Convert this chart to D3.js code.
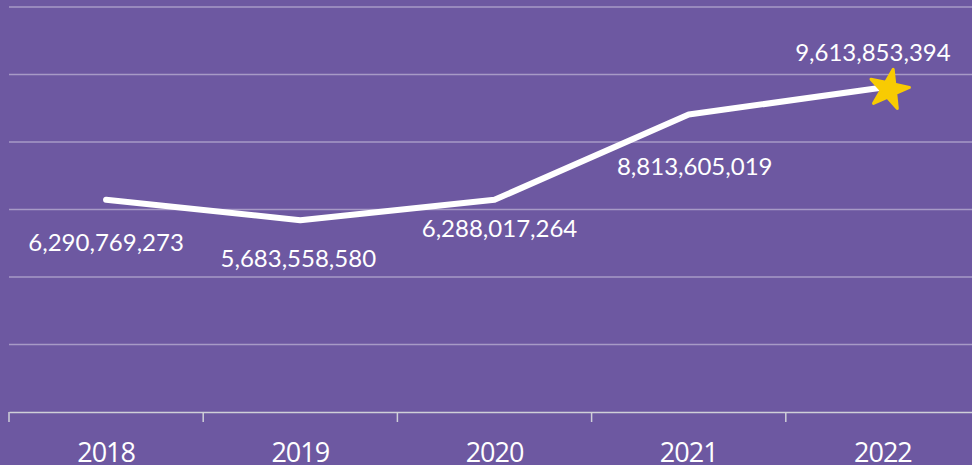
<!DOCTYPE html>
<html>
<head>
<meta charset="utf-8">
<script src="https://cdn.jsdelivr.net/npm/d3@7"></script>
<style>
    html, body { margin: 0; padding: 0; background: #6d58a1; overflow: hidden; }
    .data-label { font-family: Lato, sans-serif; font-size: 24px; fill: #fff; }
    .x-axis text { font-family: "Open Sans", sans-serif; font-size: 27px; fill: #fff; letter-spacing: -1px; }
</style>
</head>
<body>
<div class="chart"></div>
<script>
const years = ['2018', '2019', '2020', '2021', '2022'];
const totals = [6290769273, 5683558580, 6288017264, 8813605019, 9613853394];
const yTicks = [0, 2e9, 4e9, 6e9, 8e9, 10e9, 12e9];
// label nudges (dx, dy from the point), so they sit clear of the line
const labelOffsets = [[0, 51], [-2, 47], [5, 37], [6, 60], [-10, -27]];

const width = 972;
const height = 465;
const margin = { top: 7, left: 9, bottom: 53 };
const plotRight = 980;

const data = years.map((year, i) => ({ year, value: totals[i] }));

const svg = d3.select('.chart')
    .append('svg')
    .attr('width', width)
    .attr('height', height);

const x = d3.scaleBand()
    .domain(years)
    .range([margin.left, plotRight])
    .padding(0);

const y = d3.scaleLinear()
    .domain([0, 12e9])
    .range([height - margin.bottom, margin.top]);

const cx = (d) => x(d) + x.bandwidth() / 2;

// gridlines
svg.append('g')
    .attr('class', 'grid')
    .selectAll('line')
    .data(yTicks.slice(1))
    .enter()
    .append('line')
    .attr('x1', margin.left)
    .attr('x2', width)
    .attr('y1', (d) => y(d))
    .attr('y2', (d) => y(d))
    .attr('stroke', 'rgba(255,255,255,0.4)')
    .attr('stroke-width', 1.5);

// x axis
const xAxis = svg.append('g')
    .attr('class', 'x-axis')
    .attr('transform', `translate(0,${y(0)})`)
    .call(d3.axisBottom(x).tickSize(0).tickPadding(45));

xAxis.select('.domain')
    .attr('stroke', '#cfcfd8')
    .attr('stroke-width', 1.5);

xAxis.selectAll('text').attr('dy', '0.2em');

xAxis.selectAll('.band-tick')
    .data(years)
    .enter()
    .append('line')
    .attr('class', 'band-tick')
    .attr('x1', (d) => x(d))
    .attr('x2', (d) => x(d))
    .attr('y1', 0)
    .attr('y2', 10)
    .attr('stroke', '#cfcfd8')
    .attr('stroke-width', 1.5);

// line
const line = d3.line()
    .x((d) => cx(d.year))
    .y((d) => y(d.value));

svg.append('path')
    .datum(data)
    .attr('fill', 'none')
    .attr('stroke', '#fff')
    .attr('stroke-width', 6)
    .attr('stroke-linecap', 'round')
    .attr('stroke-linejoin', 'round')
    .attr('d', line);

// star on latest year
const last = data[data.length - 1];
svg.append('path')
    .attr('d', d3.symbol().type(d3.symbolStar).size(480)())
    .attr('transform', `translate(${cx(last.year) + 6},${y(last.value) + 2}) rotate(12)`)
    .attr('fill', '#f8cb02')
    .attr('stroke', '#f8cb02')
    .attr('stroke-width', 3)
    .attr('stroke-linejoin', 'round');

// value labels
svg.append('g')
    .selectAll('text')
    .data(data)
    .enter()
    .append('text')
    .attr('class', 'data-label')
    .attr('text-anchor', 'middle')
    .attr('x', (d, i) => cx(d.year) + labelOffsets[i][0])
    .attr('y', (d, i) => y(d.value) + labelOffsets[i][1])
    .text((d) => d3.format(',')(d.value));
</script>
</body>
</html>
